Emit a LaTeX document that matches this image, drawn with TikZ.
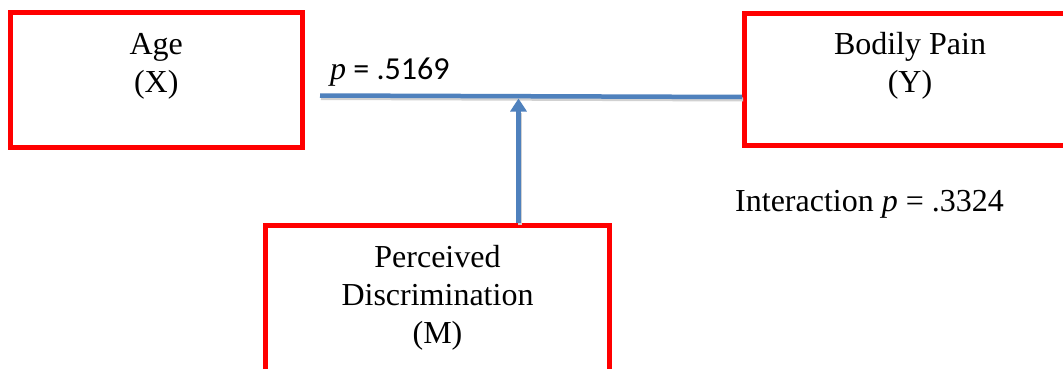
\documentclass[tikz,border=0pt]{standalone}
\usepackage{fontspec}
\setmainfont{Liberation Serif}
\newfontfamily\calib{Carlito}
\usetikzlibrary{arrows.meta}
\definecolor{boxred}{HTML}{FF0000}
\definecolor{lineblue}{HTML}{4F81BD}
\begin{document}
\begin{tikzpicture}[x=1pt,y=-1pt,
  varbox/.style={draw=boxred, line width=5pt, rectangle, inner sep=0pt, fill=white},
  lbl/.style={inner sep=0pt, font=\fontsize{32}{38}\selectfont, anchor=base},
  blueline/.style={draw=lineblue, line width=4.5pt},
  shadowline/.style={draw=black!18, line width=4pt}
]
\useasboundingbox (0,0) rectangle (1063,369);
\clip (0,0) rectangle (1063,369);
\fill[white] (0,0) rectangle (1063,369);

% boxes
\node[varbox, minimum width=292.5pt, minimum height=135pt] (agebox) at (156.25,80) {};
\node[varbox, minimum width=332pt, minimum height=131.5pt] (painbox) at (910,79.75) {};
\node[varbox, minimum width=343.4pt, minimum height=160pt] (mbox) at (437.5,305.8) {};

% box texts
\node[lbl] (agetxt) at (156.25,55) {\begin{tabular}[t]{@{}c@{}}Age\\(X)\end{tabular}};
\node[lbl] (paintxt) at (910,55) {\begin{tabular}[t]{@{}c@{}}Bodily Pain\\(Y)\end{tabular}};
\node[lbl] (mtxt) at (437.5,267) {\begin{tabular}[t]{@{}c@{}}Perceived\\Discrimination\\(M)\end{tabular}};

% connectors
\coordinate (lstart) at (320,95.5);
\coordinate (lend) at (742,97);
\coordinate (junction) at (518.5,98.5);
\draw[shadowline] ([shift={(1,2.5)}]lstart) -- ([shift={(1,2.5)}]lend);
\draw[shadowline] ([shift={(1.5,2)}]mbox.north -| junction) -- ([shift={(1.5,14)}]junction);
\draw[blueline] (lstart) -- (lend);
\draw[blueline, -{Triangle[width=16pt,length=13pt]}] (mbox.north -| junction) -- (junction);

% labels
\node[lbl, anchor=base west] (plbl) at (330,80) {\textit{p}\calib{} = .5169};
\node[lbl, anchor=base west] (intlbl) at (735,211) {Interaction \textit{p} = .3324};
\end{tikzpicture}
\end{document}
